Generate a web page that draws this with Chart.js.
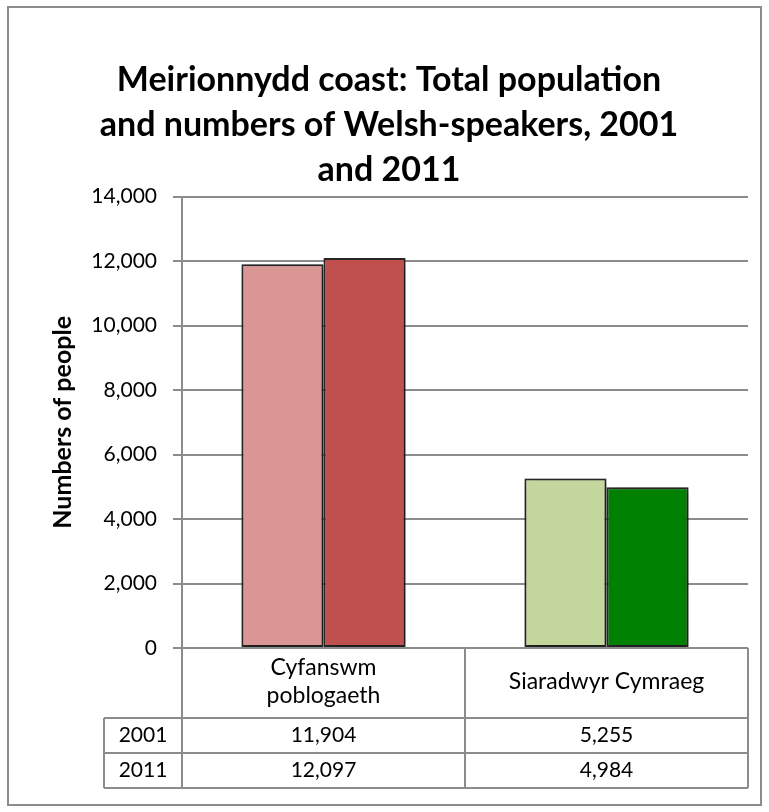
<!DOCTYPE html>
<html>
<head>
<meta charset="utf-8">
<title>Meirionnydd coast</title>
<script src="https://cdn.jsdelivr.net/npm/chart.js@4.4.0/dist/chart.umd.min.js"></script>
<style>
  html, body { margin: 0; padding: 0; background: #fff; }
</style>
</head>
<body>
<canvas id="chart" width="769" height="812"></canvas>
<script>
// categories (the first one wraps onto two lines)
var categories = [['Cyfanswm', 'poblogaeth'], 'Siaradwyr Cymraeg'];
var years = ['2001', '2011'];
var people2001 = [11904, 5255];
var people2011 = [12097, 4984];
var colours2001 = ['#d99694', '#c3d69b'];
var colours2011 = ['#c0504d', '#008000'];
var yMax = 14000;
var yStep = 2000;

var FONT = 'Lato, "Open Sans", sans-serif';
var LINE = '#8c8c8c';

// white page plus the grey chart-area border
var frame = {
  id: 'frame',
  beforeDraw: function(chart) {
    var ctx = chart.ctx;
    ctx.save();
    ctx.fillStyle = '#fff';
    ctx.fillRect(0, 0, chart.width, chart.height);
    ctx.strokeStyle = LINE;
    ctx.lineWidth = 2;
    ctx.strokeRect(8, 7, 753, 798);
    ctx.restore();
  }
};

// soft drop shadow under the bars
var barShadow = {
  id: 'barShadow',
  beforeDatasetsDraw: function(chart) {
    var ctx = chart.ctx;
    ctx.save();
    ctx.shadowColor = 'rgba(0,0,0,0.5)';
    ctx.shadowBlur = 8;
    ctx.shadowOffsetX = 2;
    ctx.shadowOffsetY = 2;
  },
  afterDatasetsDraw: function(chart) {
    chart.ctx.restore();
  }
};

// data table under the x axis: header cells come from the x scale,
// the two year rows are drawn here from the series arrays
var dataTable = {
  id: 'dataTable',
  afterDraw: function(chart) {
    var ctx = chart.ctx;
    var area = chart.chartArea;
    var xs = chart.scales.x;
    var rowH = 35;
    var yearW = 78;
    var headTop = area.bottom;
    var headBottom = xs.bottom;
    var tableBottom = headBottom + rowH * years.length;
    var divider = (xs.getPixelForTick(0) + xs.getPixelForTick(1)) / 2;
    var rows = [people2001, people2011];

    ctx.save();
    ctx.strokeStyle = LINE;
    ctx.lineWidth = 2;
    ctx.beginPath();
    ctx.moveTo(area.left, headTop); ctx.lineTo(area.right, headTop);
    for (var r = 0; r <= years.length; r++) {
      var y = headBottom + r * rowH;
      ctx.moveTo(area.left - yearW, y); ctx.lineTo(area.right, y);
    }
    ctx.moveTo(area.left, headTop); ctx.lineTo(area.left, tableBottom);
    ctx.moveTo(divider, headTop); ctx.lineTo(divider, tableBottom);
    ctx.moveTo(area.right, headTop); ctx.lineTo(area.right, tableBottom);
    ctx.moveTo(area.left - yearW, headBottom); ctx.lineTo(area.left - yearW, tableBottom);
    ctx.stroke();

    ctx.fillStyle = '#000';
    ctx.font = '21px ' + FONT;
    ctx.textAlign = 'center';
    ctx.textBaseline = 'middle';
    rows.forEach(function(vals, r) {
      var cy = headBottom + r * rowH + rowH / 2;
      ctx.fillText(years[r], area.left - yearW / 2, cy);
      vals.forEach(function(v, i) {
        ctx.fillText(v.toLocaleString('en-US'), xs.getPixelForTick(i), cy);
      });
    });
    ctx.restore();
  }
};

new Chart(document.getElementById('chart'), {
  type: 'bar',
  data: {
    labels: categories,
    datasets: [
      {
        label: years[0],
        data: people2001,
        backgroundColor: colours2001,
        borderColor: '#2b2b2b',
        borderWidth: 2,
        borderSkipped: false,
        clip: false
      },
      {
        label: years[1],
        data: people2011,
        backgroundColor: colours2011,
        borderColor: '#2b2b2b',
        borderWidth: 2,
        borderSkipped: false,
        clip: false
      }
    ]
  },
  options: {
    responsive: false,
    animation: false,
    categoryPercentage: 0.58,
    barPercentage: 1.0,
    layout: { padding: { top: 8, left: 30, right: 21, bottom: 94 } },
    plugins: {
      legend: { display: false },
      tooltip: { enabled: false },
      title: {
        display: true,
        text: ['Meirionnydd coast: Total population', 'and numbers of Welsh-speakers, 2001', 'and 2011'],
        color: '#000',
        font: { family: FONT, size: 34, weight: 'bold', lineHeight: 1.32 },
        padding: { top: 50, bottom: 4 }
      }
    },
    scales: {
      x: {
        grid: { display: false, drawTicks: false },
        border: { display: false },
        ticks: {
          color: '#000',
          font: { family: FONT, size: 23, lineHeight: 1.18 },
          crossAlign: 'center',
          padding: 20,
          maxRotation: 0,
          autoSkip: false
        },
        afterFit: function(s) { s.height = 70; }
      },
      y: {
        min: 0,
        max: yMax,
        ticks: {
          stepSize: yStep,
          color: '#000',
          font: { family: FONT, size: 21 },
          padding: 16
        },
        grid: { color: LINE, lineWidth: 2, tickLength: 9 },
        border: { color: LINE, width: 2 },
        title: {
          display: true,
          text: 'Numbers of people',
          color: '#000',
          font: { family: FONT, size: 25, weight: 'bold' },
          padding: { top: 18, bottom: 0 }
        },
        afterFit: function(s) { s.width = 152; }
      }
    }
  },
  plugins: [frame, barShadow, dataTable]
});
</script>
</body>
</html>
